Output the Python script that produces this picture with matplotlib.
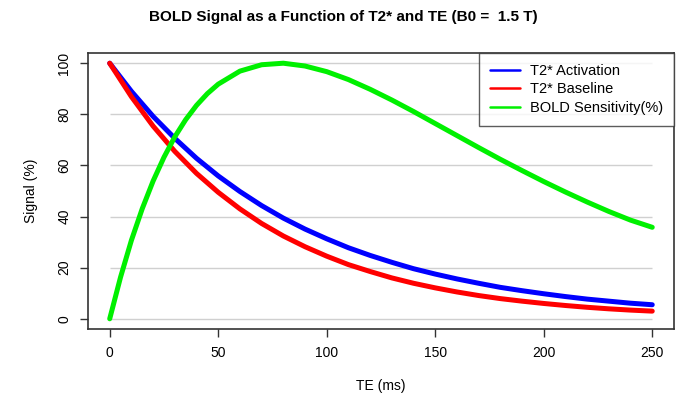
import matplotlib
matplotlib.use("Agg")
import matplotlib.pyplot as plt

plt.rcParams['font.family'] = ['Liberation Sans', 'DejaVu Sans']

te_ab = [0, 10, 20, 30, 40, 50, 60, 70, 80, 90, 100, 110, 120, 130, 140, 150,
         160, 170, 180, 190, 200, 210, 220, 230, 240, 250]
activation = [100, 89.0, 79.2, 70.6, 62.8, 55.9, 49.8, 44.3, 39.4, 35.1, 31.3, 27.8,
              24.8, 22.1, 19.6, 17.5, 15.6, 13.9, 12.3, 11.0, 9.8, 8.7, 7.7, 6.9, 6.1, 5.5]
baseline = [100, 86.9, 75.4, 65.5, 56.9, 49.5, 43.0, 37.3, 32.4, 28.2, 24.5, 21.2,
            18.5, 16.0, 13.9, 12.1, 10.5, 9.1, 7.9, 6.9, 6.0, 5.2, 4.5, 3.9, 3.4, 3.0]
te_g = [0, 5, 10, 15, 20, 25, 30, 35, 40, 45, 50, 60, 70, 80, 90, 100, 110, 120, 130,
        140, 150, 160, 170, 180, 190, 200, 210, 220, 230, 240, 250]
sensitivity = [0, 16.3, 30.7, 43.1, 53.9, 63.2, 71.2, 77.9, 83.5, 88.1, 91.8, 96.9,
               99.4, 100.0, 98.9, 96.7, 93.6, 89.8, 85.6, 81.1, 76.4, 71.7, 67.0,
               62.4, 58.0, 53.7, 49.6, 45.7, 42.0, 38.6, 35.8]
grid_levels = [0, 20, 40, 60, 80, 100]
xticks = [0, 50, 100, 150, 200, 250]

fig = plt.figure(figsize=(6.87, 3.99), dpi=100)
ax = fig.add_axes([0.1281, 0.1754, 0.8529, 0.6918])

ax.hlines(grid_levels, 0, 250, colors='#d0d0d0', lw=1.0, zorder=1)
ax.plot(te_ab, activation, color='#0000ff', lw=3.6, label='T2* Activation', zorder=3,
        solid_capstyle='round')
ax.plot(te_ab, baseline, color='#ff0000', lw=3.6, label='T2* Baseline', zorder=3,
        solid_capstyle='round')
ax.plot(te_g, sensitivity, color='#00f000', lw=3.6, label='BOLD Sensitivity(%)', zorder=3,
        solid_capstyle='round')

ax.set_xlim(-10, 260)
ax.set_ylim(-4, 104)
ax.set_xticks(xticks)
ax.set_yticks(grid_levels)
ax.set_yticklabels([str(v) for v in grid_levels], rotation=90, va='center')
ax.tick_params(axis='both', labelsize=10, length=6, width=1, color='#333333', pad=6)
for s in ax.spines.values():
    s.set_color('#333333')
    s.set_linewidth(1.2)

ax.set_xlabel('TE (ms)', fontsize=10, labelpad=14)
ax.set_ylabel('Signal (%)', fontsize=10, labelpad=14)
fig.suptitle('BOLD Signal as a Function of T2* and TE (B0 =  1.5 T)', fontsize=11,
             fontweight='bold', y=0.975)

leg = ax.legend(loc='upper right', bbox_to_anchor=(1.0, 1.0), fontsize=10.5, frameon=True,
                fancybox=False, borderaxespad=0, handlelength=2.05, handletextpad=0.7,
                borderpad=0.75, labelspacing=0.3)
leg.get_frame().set_edgecolor('#333333')
leg.get_frame().set_linewidth(1.0)
for l in leg.get_lines():
    l.set_linewidth(1.8)

fig.savefig('out.png', dpi=100)
